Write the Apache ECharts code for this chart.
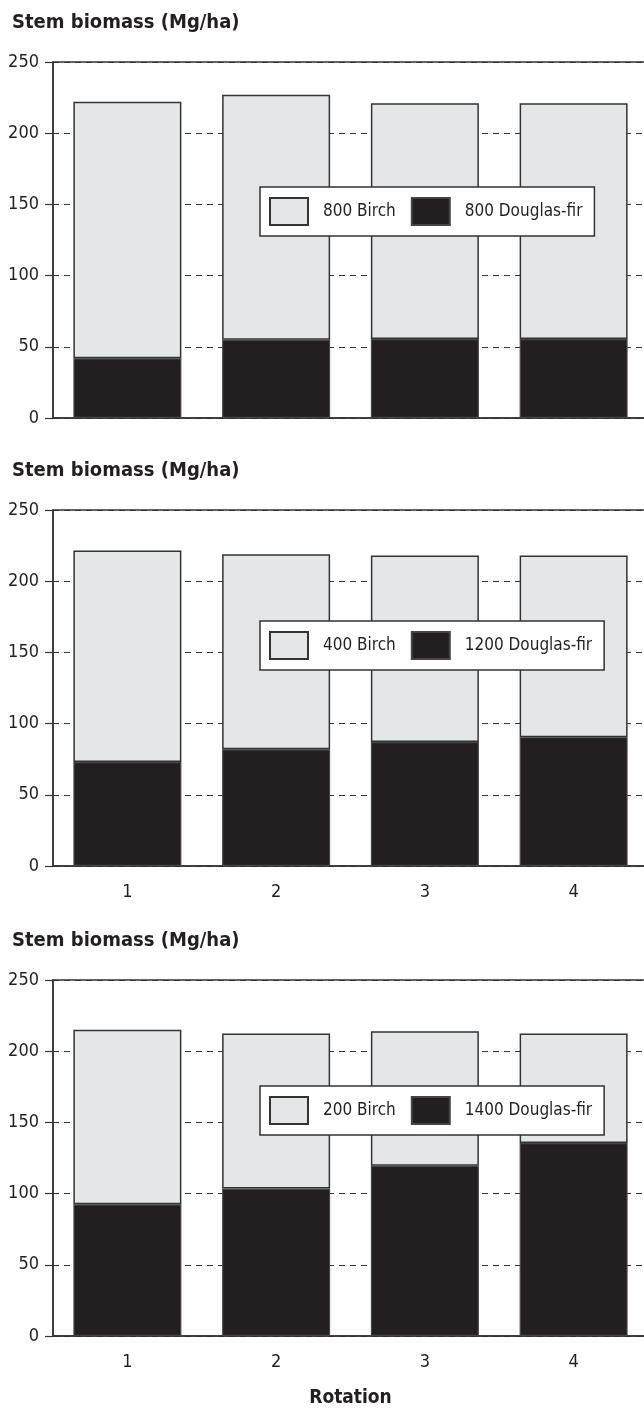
<!DOCTYPE html>
<html>
<head>
<meta charset="UTF-8">
<title>Stem biomass</title>
<script src="https://cdn.jsdelivr.net/npm/echarts@6/dist/echarts.min.js"></script>
<style>
body{margin:0;background:#fff;}
#charts{width:644px;height:1416px;}
</style>
</head>
<body>
<div id="charts"></div>
<script type="text/javascript">
// rotations on the x axis
var rotations=['1','2','3','4'];
var yTicks=[0,50,100,150,200,250];

// panel 1: 800 birch / 800 douglas-fir
var birchName1='800 Birch';
var firName1='800 Douglas-fir';
var fir1=[42,55,55.5,55.5];
var birch1=[180,172,165.5,165.5];

// panel 2: 400 birch / 1200 douglas-fir
var birchName2='400 Birch';
var firName2='1200 Douglas-fir';
var fir2=[73,82,87,90.5];
var birch2=[148.5,137,131,127.5];

// panel 3: 200 birch / 1400 douglas-fir
var birchName3='200 Birch';
var firName3='1400 Douglas-fir';
var fir3=[92.5,103.5,119.5,135.5];
var birch3=[122.5,109,94.5,77];

var yTitle='Stem biomass (Mg/ha)';
var xTitle='Rotation';

var font='"DejaVu Sans Condensed","Liberation Sans Narrow",sans-serif';
var ink='#231f20';
var lineCol='#333';
var gray='#e5e6e8';

var panels=[
	{birch:birchName1,fir:firName1,b:birch1,f:fir1,top:62,legendTop:187,labels:false},
	{birch:birchName2,fir:firName2,b:birch2,f:fir2,top:510,legendTop:621,labels:true},
	{birch:birchName3,fir:firName3,b:birch3,f:fir3,top:980,legendTop:1086,labels:true}
];

var option={
	backgroundColor:'#fff',
	animation:false,
	title:[],grid:[],xAxis:[],yAxis:[],legend:[],series:[]
};

for(var i=0;i<panels.length;i++){
	var p=panels[i];
	option.title.push({
		text:yTitle,left:7,top:p.top-54,
		textStyle:{fontFamily:font,fontWeight:'bold',fontSize:20,color:ink}
	});
	// plot runs a few px past the right edge, like the cropped original
	option.grid.push({
		left:53,width:595,top:p.top,height:356,outerBoundsMode:'none',
		show:true,borderColor:lineCol,borderWidth:1.5,backgroundColor:'transparent'
	});
	option.xAxis.push({
		type:'category',gridIndex:i,data:rotations,
		name:(i==2)?xTitle:'',nameLocation:'middle',nameGap:53,
		nameTextStyle:{fontFamily:font,fontWeight:'bold',fontSize:19,color:ink},
		axisLine:{lineStyle:{color:lineCol,width:1.5}},
		axisTick:{alignWithLabel:true,length:8,lineStyle:{color:lineCol,width:1.2}},
		axisLabel:{show:p.labels,margin:17,fontFamily:font,fontSize:18,color:ink}
	});
	option.yAxis.push({
		type:'value',gridIndex:i,min:yTicks[0],max:yTicks[yTicks.length-1],interval:50,
		axisLine:{show:true,lineStyle:{color:lineCol,width:1.5}},
		axisTick:{show:true,length:8,lineStyle:{color:lineCol,width:1.2}},
		axisLabel:{margin:14,fontFamily:font,fontSize:18,color:ink},
		splitLine:{show:true,lineStyle:{color:lineCol,width:1,type:[6,5]}}
	});
	option.legend.push({
		data:[p.birch,p.fir],left:260,top:p.legendTop,
		orient:'horizontal',icon:'rect',
		backgroundColor:'#fff',borderColor:lineCol,borderWidth:1.5,
		padding:[10,12,10,9],itemGap:15,itemWidth:38,itemHeight:27,
		textStyle:{fontFamily:font,fontSize:17,color:ink,padding:[0,0,0,10]},
		selectedMode:false
	});
	option.series.push({
		name:p.fir,type:'bar',stack:'s'+i,xAxisIndex:i,yAxisIndex:i,
		barWidth:108,data:p.f,
		itemStyle:{color:ink,borderColor:'#444',borderWidth:1.2}
	});
	option.series.push({
		name:p.birch,type:'bar',stack:'s'+i,xAxisIndex:i,yAxisIndex:i,
		barWidth:108,data:p.b,
		itemStyle:{color:gray,borderColor:'#333',borderWidth:1.5}
	});
}

var mychart=echarts.init(document.getElementById('charts'));
mychart.setOption(option);
</script>
</body>
</html>
